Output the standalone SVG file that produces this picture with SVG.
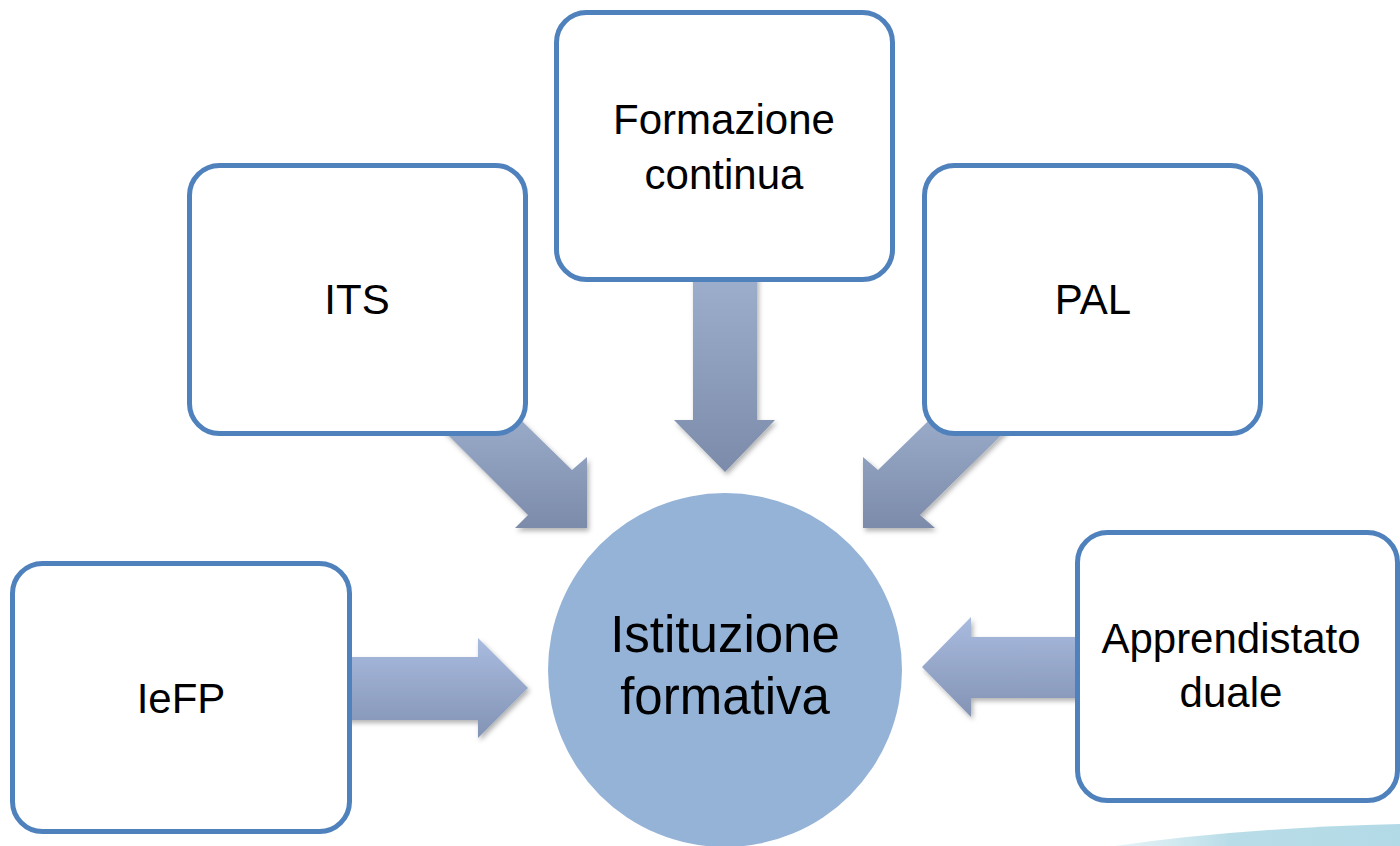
<svg xmlns="http://www.w3.org/2000/svg" width="1400" height="846" viewBox="0 0 1400 846">
<defs>
<linearGradient id="ga" x1="0" y1="0" x2="0" y2="1">
<stop offset="0" stop-color="#a2b3d2"/>
<stop offset="1" stop-color="#7b8ba9"/>
</linearGradient>
<linearGradient id="gh" x1="0" y1="0" x2="0" y2="1">
<stop offset="0" stop-color="#a9bbdf"/>
<stop offset="1" stop-color="#8293b4"/>
</linearGradient>
<linearGradient id="gs" x1="0" y1="0" x2="1" y2="0">
<stop offset="0" stop-color="#c4e3ec" stop-opacity="0.4"/>
<stop offset="0.4" stop-color="#b9dde8"/>
<stop offset="1" stop-color="#b2dae6"/>
</linearGradient>
<filter id="sh" x="-20%" y="-20%" width="140%" height="140%">
<feDropShadow dx="2" dy="3" stdDeviation="2.5" flood-color="#000" flood-opacity="0.3"/>
</filter>
</defs>
<style>
.box{fill:#fff;stroke:#4f81bd;stroke-width:5}
.t{font-family:"Liberation Sans",Arial,sans-serif;font-size:42px;fill:#000;text-anchor:middle}
.c{font-family:"Liberation Sans",Arial,sans-serif;font-size:51px;fill:#000;text-anchor:middle}
.arr{filter:url(#sh)}
</style>
<path d="M1115,846 Q1240,828 1400,824 L1400,846 Z" fill="url(#gs)"/>
<g id="connectors">
<path class="arr" fill="url(#ga)" d="M693,250 L757,250 L757,420 L775,420 L725,472 L674,420 L693,420 Z"/>
<path class="arr" fill="url(#ga)" d="M490,390 L572,470 L587,457 L587,528 L515,528 L528,515 L420,407 Z"/>
<path class="arr" fill="url(#ga)" d="M960,390 L878,470 L863,457 L863,528 L935,528 L920,515 L1030,407 Z"/>
<path class="arr" fill="url(#gh)" d="M330,657 L478,657 L478,638 L528,688 L478,738 L478,720 L330,720 Z"/>
<path class="arr" fill="url(#gh)" d="M1100,637 L971,637 L971,617 L922,667 L971,717 L971,698 L1100,698 Z"/>
</g>
<g id="center">
<circle cx="725" cy="670" r="177" fill="#95b3d7"/>
<text class="c" x="725" y="652">Istituzione</text>
<text class="c" x="725" y="714">formativa</text>
</g>
<g id="formazione">
<rect class="box" x="556.5" y="12.5" width="336" height="267" rx="30"/>
<text class="t" x="724" y="134">Formazione</text>
<text class="t" x="724" y="189">continua</text>
</g>
<g id="its">
<rect class="box" x="189.5" y="165.5" width="336" height="268" rx="30"/>
<text class="t" x="357" y="314">ITS</text>
</g>
<g id="pal">
<rect class="box" x="924.5" y="165.5" width="336" height="268" rx="30"/>
<text class="t" x="1093" y="314">PAL</text>
</g>
<g id="iefp">
<rect class="box" x="12.5" y="563.5" width="337" height="268" rx="30"/>
<text class="t" x="181" y="713">IeFP</text>
</g>
<g id="apprendistato">
<rect class="box" x="1077.5" y="532.5" width="320" height="268" rx="30"/>
<text class="t" x="1231" y="653">Apprendistato</text>
<text class="t" x="1231" y="707">duale</text>
</g>
</svg>
